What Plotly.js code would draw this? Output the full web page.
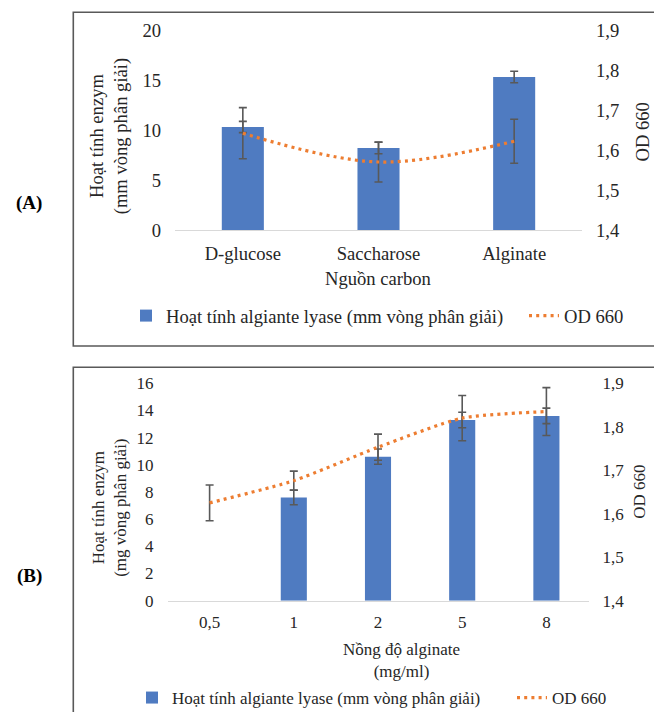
<!DOCTYPE html>
<html>
<head>
<meta charset="utf-8">
<script src="https://cdn.plot.ly/plotly-3.0.1.min.js"></script>
<style>
html,body{margin:0;padding:0;background:#fff;overflow:hidden;}
#chart{width:654px;height:712px;}
</style>
</head>
<body>
<div id="chart"></div>
<script>
// ---------- Data: panel A (carbon source) ----------
var carbonSources = ['D-glucose', 'Saccharose', 'Alginate'];
var activityA = [10.3, 8.2, 15.3];
var activityErrA = [0.56, 0.57, 0.57];
var odA = [1.642, 1.570, 1.622];
var odErrA = [0.064, 0.050, 0.055];

// ---------- Data: panel B (alginate concentration) ----------
var concLabels = ['0,5', '1', '2', '5', '8'];
var activityB = [0, 7.6, 10.6, 13.3, 13.6];
var activityErrB = [NaN, 0.54, 0.56, 0.57, 0.57];
var odB = [1.625, 1.676, 1.753, 1.820, 1.835];
var odErrB = [0.041, 0.022, 0.030, 0.052, 0.055];

// ---------- Tick labels ----------
var yTicksA = [0, 5, 10, 15, 20];
var yTicksB = [0, 2, 4, 6, 8, 10, 12, 14, 16];
var odTicks = [1.4, 1.5, 1.6, 1.7, 1.8, 1.9];

var barName = 'Hoạt tính algiante lyase (mm vòng phân giải)';
var lineName = 'OD 660';

// ---------- Styling ----------
var W = 654, H = 712;
function px(v){ return v / W; }
function py(v){ return 1 - v / H; }
var FONT = 'Liberation Serif';
var TXT = '#262626';
var BLUE = '#4F7BC1';
var ORANGE = '#ED7D31';
var ERR = '#595959';
var FA = 18.6, FB = 17;

var traces = [
  {
    type: 'bar', x: carbonSources, y: activityA, name: barName,
    xaxis: 'x', yaxis: 'y', width: 0.31, legend: 'legend', showlegend: true,
    marker: {color: BLUE},
    error_y: {type: 'data', array: activityErrA, visible: true, color: ERR, thickness: 1.6, width: 4},
    hoverinfo: 'skip'
  },
  {
    type: 'scatter', mode: 'lines', x: carbonSources, y: odA, name: lineName,
    xaxis: 'x', yaxis: 'y2', legend: 'legend3', showlegend: true,
    line: {color: ORANGE, width: 3.2, dash: '3px,4.2px', shape: 'spline', smoothing: 1},
    error_y: {type: 'data', array: odErrA, visible: true, color: ERR, thickness: 1.6, width: 4},
    hoverinfo: 'skip'
  },
  {
    type: 'bar', x: concLabels, y: activityB, name: barName,
    xaxis: 'x2', yaxis: 'y3', width: 0.31, legend: 'legend2', showlegend: true,
    marker: {color: BLUE},
    error_y: {type: 'data', array: activityErrB, visible: true, color: ERR, thickness: 1.6, width: 4},
    hoverinfo: 'skip'
  },
  {
    type: 'scatter', mode: 'lines', x: concLabels, y: odB, name: lineName,
    xaxis: 'x2', yaxis: 'y4', legend: 'legend4', showlegend: true,
    line: {color: ORANGE, width: 3.2, dash: '3px,4.2px', shape: 'spline', smoothing: 0.6},
    error_y: {type: 'data', array: odErrB, visible: true, color: ERR, thickness: 1.6, width: 4},
    hoverinfo: 'skip'
  }
];

function xAxis(domain, anchor, n, size){
  return {
    domain: domain, anchor: anchor, type: 'category', range: [-0.5, n - 0.5],
    showline: true, linecolor: '#D9D9D9', linewidth: 1.2, ticks: '',
    showgrid: false, zeroline: false, fixedrange: true, automargin: false,
    tickfont: {family: FONT, size: size, color: TXT}, ticklabelstandoff: 6
  };
}
function yAxis(domain, anchor, range, ticks, size, extra){
  var a = {
    domain: domain, anchor: anchor, range: range, tickvals: ticks,
    showgrid: false, zeroline: false, showline: false, ticks: '', fixedrange: true, automargin: false,
    tickfont: {family: FONT, size: size, color: TXT}, ticklabelstandoff: 13
  };
  for (var k in extra) a[k] = extra[k];
  return a;
}
function ann(text, x, y, size, extra){
  var a = {text: text, xref: 'paper', yref: 'paper', x: px(x), y: py(y), showarrow: false,
           xanchor: 'center', yanchor: 'middle', font: {family: FONT, size: size, color: TXT}};
  for (var k in extra) a[k] = extra[k];
  return a;
}
function leg(x, y, size){
  return {
    orientation: 'h', x: px(x), xanchor: 'left', y: py(y), yanchor: 'middle', visible: true,
    font: {family: FONT, size: size, color: TXT}, bgcolor: 'rgba(0,0,0,0)',
    itemclick: false, itemdoubleclick: false
  };
}

var layout = {
  width: W, height: H, autosize: false,
  showlegend: true,
  margin: {l: 0, r: 0, t: 0, b: 0, pad: 0, autoexpand: false},
  paper_bgcolor: '#fff', plot_bgcolor: 'rgba(0,0,0,0)',
  separators: ',.',
  font: {family: FONT, color: TXT},
  xaxis: xAxis([px(175), px(582)], 'y', carbonSources.length, FA),
  yaxis: yAxis([py(230), py(30)], 'x', [0, 20], yTicksA, FA, {}),
  yaxis2: yAxis([py(230), py(30)], 'x', [1.4, 1.9], odTicks, FA,
                {overlaying: 'y', side: 'right', tickformat: '.1f'}),
  xaxis2: xAxis([px(167.5), px(588.5)], 'y3', concLabels.length, FB),
  yaxis3: yAxis([py(600.7), py(383.3)], 'x2', [0, 16], yTicksB, FB, {}),
  yaxis4: yAxis([py(600.7), py(383.3)], 'x2', [1.4, 1.9], odTicks, FB,
                {overlaying: 'y3', side: 'right', tickformat: '.1f'}),
  legend: leg(126, 316, FA),
  legend3: leg(524, 316, FA),
  legend2: leg(132, 698, FB),
  legend4: leg(512, 698, FB),
  shapes: [
    {type: 'rect', xref: 'paper', yref: 'paper', x0: px(73.3), x1: px(680), y0: py(346), y1: py(12.3),
     line: {color: '#595959', width: 1.6}, fillcolor: 'rgba(0,0,0,0)', layer: 'below'},
    {type: 'rect', xref: 'paper', yref: 'paper', x0: px(73.3), x1: px(680), y0: py(740), y1: py(367.3),
     line: {color: '#595959', width: 1.6}, fillcolor: 'rgba(0,0,0,0)', layer: 'below'}
  ],
  annotations: [
    ann('<b>(A)</b>', 29, 203, 19, {font: {family: FONT, size: 19, color: '#000'}}),
    ann('<b>(B)</b>', 29, 576, 19, {font: {family: FONT, size: 19, color: '#000'}}),
    ann('Hoạt tính enzym<br>(mm vòng phân giải)', 109.3, 136, FA, {textangle: -90}),
    ann('OD 660', 642, 132.5, FA, {textangle: -90}),
    ann('Nguồn carbon', 378.7, 278, FA, {}),
    ann('Hoạt tính enzym<br>(mg vòng phân giải)', 108.8, 508, FB, {textangle: -90}),
    ann('OD 660', 640, 491.7, FB, {textangle: -90}),
    ann('Nồng độ alginate<br>(mg/ml)', 401, 660, FB, {})
  ]
};

Plotly.newPlot('chart', traces, layout, {displayModeBar: false, staticPlot: true});
</script>
</body>
</html>
